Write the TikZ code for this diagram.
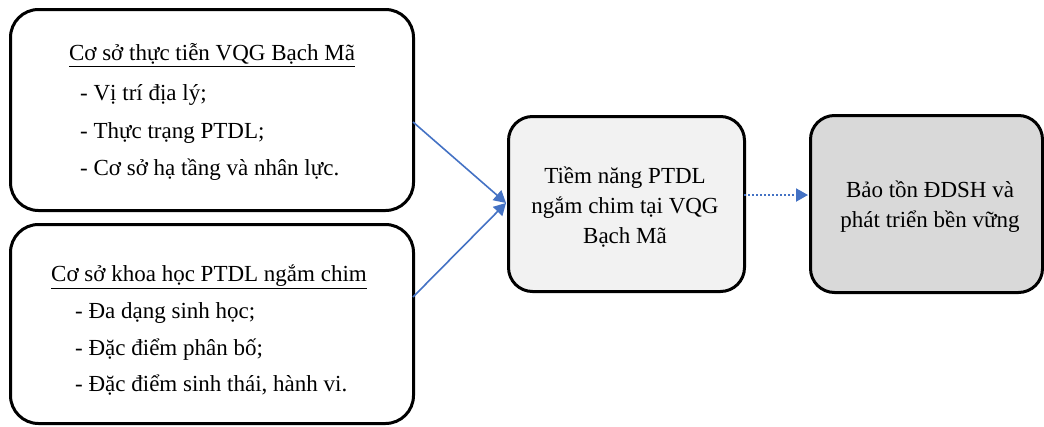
\documentclass[tikz,border=0pt]{standalone}
\usepackage{fontspec}
\setmainfont{Liberation Serif}
\usetikzlibrary{arrows.meta}
\definecolor{arrowblue}{HTML}{4472C4}
\definecolor{lightfill}{HTML}{F2F2F2}
\definecolor{darkfill}{HTML}{D9D9D9}
\tikzset{
  box/.style={draw=black, line width=3pt, rounded corners=28pt, inner sep=0pt},
  txt/.style={font=\fontsize{23}{26}\selectfont, inner sep=0pt},
  ctxt/.style={font=\fontsize{23}{30}\selectfont, align=center, inner sep=0pt},
  link/.style={draw=arrowblue, line width=1.6pt, -{Triangle[width=13pt,length=12pt]}},
  dlink/.style={draw=arrowblue, line width=2pt, dash pattern=on 2pt off 2pt, -{Triangle[width=13pt,length=12pt]}}
}
\begin{document}
\begin{tikzpicture}[x=1pt,y=-1pt]
\useasboundingbox (0,0) rectangle (1044,426);
% boxes
\node[box, fill=white, minimum width=403pt, minimum height=201pt, anchor=north west] (b1) at (9,8) {};
\node[box, fill=white, minimum width=403pt, minimum height=199pt, anchor=north west] (b2) at (9,223) {};
\node[box, fill=lightfill, rounded corners=24pt, minimum width=236pt, minimum height=175pt, anchor=north west] (c) at (507,115) {};
\node[box, fill=darkfill, rounded corners=24pt, minimum width=232pt, minimum height=177pt, anchor=north west] (r) at (809,114) {};
% text box 1
\node[txt] (t1) at (212,55) {\underline{Cơ sở thực tiễn VQG Bạch Mã}};
\node[txt, anchor=west] (t1a) at (80,95) {- Vị trí địa lý;};
\node[txt, anchor=west] (t1b) at (80,133) {- Thực trạng PTDL;};
\node[txt, anchor=west] (t1c) at (80,170) {- Cơ sở hạ tầng và nhân lực.};
% text box 2
\node[txt] (t2) at (209,277) {\underline{Cơ sở khoa học PTDL ngắm chim}};
\node[txt, anchor=west] (t2a) at (75,313) {- Đa dạng sinh học;};
\node[txt, anchor=west] (t2b) at (75,350) {- Đặc điểm phân bố;};
\node[txt, anchor=west] (t2c) at (75,385) {- Đặc điểm sinh thái, hành vi.};
% center texts
\node[ctxt] (tc) at (625,207) {Tiềm năng PTDL\\ngắm chim tại VQG\\Bạch Mã};
\node[ctxt] (tr) at (930,207) {Bảo tồn ĐDSH và\\phát triển bền vững};
% connectors
\coordinate (s1) at (413,122);
\coordinate (s2) at (413,297);
\coordinate (e1) at (506,203);
\coordinate (d1) at (744,195);
\coordinate (d2) at (808,195);
\draw[link] (s1) -- (e1);
\draw[link] (s2) -- (e1);
\draw[dlink] (d1) -- (d2);
\end{tikzpicture}
\end{document}
